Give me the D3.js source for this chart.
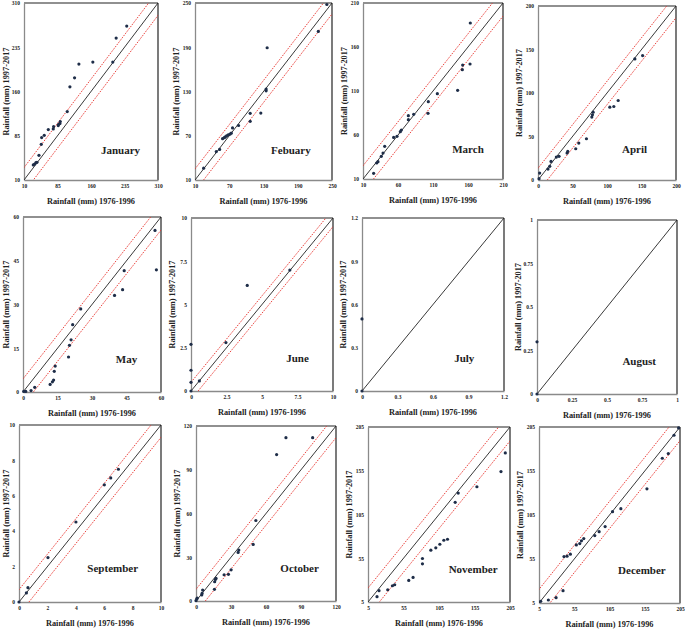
<!DOCTYPE html>
<html><head><meta charset="utf-8">
<script src="https://cdn.jsdelivr.net/npm/d3@7"></script>
<style>body{margin:0;background:#fff}svg{display:block}</style>
</head><body>
<script>
// ---- data ----
const months = ["January","Febuary","March","April","May","June","July","August","September","October","November","December"];
const janX=[30.8,33.8,36.8,39,43.5,48.7,49.5,55.4,64.4,75.5,76.3,86.7,87.4,90.4,91.2,106.8,112.8,123.2,132.9,164.1,208.8,216.3,240];
const janY=[35.5,37,39.4,40,51.9,70.5,81.9,85.8,95.5,96.6,100.5,102.2,104.5,105.6,109,126,167.9,183.2,206.4,209.8,209.8,250.5,270.9];
const febX=[25.1,47.3,53.1,58.3,61.3,63,65.3,68.2,71.2,73.5,75.8,86.3,106.7,106.7,125.3,134.6,134.6,136.4,226,241];
const febY=[26,48.6,51.4,66,67.4,68.4,69.8,71.2,72.1,73.5,80.6,83.9,89.5,100.4,100.8,130.9,133.3,189.3,211.4,248];
const marX=[25.2,29.5,31.4,36.2,38.6,41,53.8,58.6,63.3,64.8,74.8,74.8,82.4,102.9,103.3,116.2,145.2,151.9,152.4,162.9,163.3];
const marY=[16.4,28.2,29.7,35.8,39.5,47.1,57.3,58.5,63.8,65.7,77.4,82,83.5,84.6,97.9,107,110.8,134.2,139.5,140.7,187.3];
const aprX=[1.5,2.4,14.5,17,18.9,26.6,30.5,42.1,43.1,54.7,59.1,70.2,78,78.9,79.9,104.1,109.9,116.2,140.4,151.6];
const aprY=[1.5,8,12.6,15.7,21.4,26.4,27.2,31,32.9,35.9,42.4,47.4,72.3,75,78,83.7,84.5,91.4,139.2,143];
const mayX=[0.3,1.2,3.5,5.1,11.8,12.8,13.3,13.6,14,19.8,20.2,20.9,21.6,25.1,39.8,43.3,44,57.4,58];
const mayY=[0.2,0.2,0.5,1.6,2.6,3.5,4.1,7.1,8.9,12,16,17.9,23.1,28.5,33.1,35.1,41.6,55.4,41.9];
const junX=[0,0,0,0,0.59,2.46,3.96,6.96];
const junY=[0,0.5,1.2,2.7,0.58,2.8,6.1,6.99];
const julX=[0,0];
const julY=[0,0.5];
const augX=[0,0];
const augY=[0,0.3];
const sepX=[0,0.52,0.63,2.04,4.01,6.01,6.46,7.0];
const sepY=[0,0.51,0.81,2.51,4.52,6.62,7.01,7.5];
const octX=[0,0.6,1.1,4.9,5.2,5.7,15.8,16,16.6,17.2,24.1,27.8,30.1,36.1,36.7,49,51.3,69.1,77.1,100];
const octY=[0.2,1.4,2,4.1,5.2,7.5,8,13.2,14.8,15.5,18,18.3,21.4,33.3,34.9,38.8,55.2,100.4,112,112];
const novX=[17.7,20.5,32.8,39.4,42.6,62.4,68.5,81.7,81.7,93.5,100.5,106.2,111.8,117,127.8,132.1,158.4,192.3,198.4];
const novY=[11.1,17.9,19,23.6,24.7,29.7,33.1,48.6,54.7,64.2,66.9,71,75.6,76.7,118.9,129.5,136.7,154.1,175.4];
const decX=[7.4,18.3,29.2,39.1,40.5,44.8,49.5,58,62.8,65.2,68.5,84.1,90.3,98.8,109.3,121.1,158.1,179.9,188.4,196.5,203];
const decY=[6.9,8.4,11,19,57.8,58.2,60.5,71,72.5,75.6,78.2,81.6,86.1,91.8,108.8,112.2,134.8,169.5,174.8,195.6,204];
const seriesX=[janX,febX,marX,aprX,mayX,junX,julX,augX,sepX,octX,novX,decX];
const seriesY=[janY,febY,marY,aprY,mayY,junY,julY,augY,sepY,octY,novY,decY];
const ticks=[[10,85,160,235,310],[10,70,130,190,250],[10,60,110,160,210],[0,50,100,150,200],
  [0,15,30,45,60],[0,2.5,5,7.5,10],[0,0.3,0.6,0.9,1.2],[0,0.25,0.5,0.75,1],
  [0,2,4,6,8,10],[0,30,60,90,120],[5,55,105,155,205],[5,55,105,155,205]];
const bands=[21,15,15,13.5,4.5,0.5,null,null,0.7,8,16,15.5];
const xTitle="Rainfall (mm) 1976-1996";
const yTitle="Rainfall (mm) 1997-2017";

// ---- layout (pixels) ----
const boxes=[[24,158,3,180],[195,332,3,180],[363,503,3,179],[538,676,6,180],
  [23,161,217,392],[191,333,218,391],[362,504,218,391],[537,677,220,394],
  [19,161,425,602],[196,336,426,601],[368,510,427,602],[539,680,427,603]];
const labelPos=[[0.72,0.83],[0.70,0.83],[0.75,0.83],[0.70,0.82],[0.75,0.81],[0.75,0.81],[0.72,0.81],[0.73,0.81],[0.66,0.81],[0.74,0.81],[0.74,0.81],[0.73,0.81]];

const svg=d3.select("body").append("svg").attr("width",685).attr("height",632);
const serif="'Liberation Serif','Times New Roman',serif";

months.forEach((m,i)=>{
  const [L,R,T,B]=boxes[i];
  const tk=ticks[i];
  const dom=[tk[0],tk[tk.length-1]];
  const x=d3.scaleLinear().domain(dom).range([L,R]);
  const y=d3.scaleLinear().domain(dom).range([B,T]);
  const g=svg.append("g");
  // frame
  g.append("line").attr("x1",L).attr("x2",R).attr("y1",T).attr("y2",T).attr("stroke","#222").attr("stroke-width",1.2);
  g.append("line").attr("x1",R).attr("x2",R).attr("y1",T).attr("y2",B).attr("stroke","#222").attr("stroke-width",1.2);
  // axes
  const xa=g.append("g").attr("transform",`translate(0,${B})`).call(d3.axisBottom(x).tickValues(tk).tickSize(0).tickPadding(4).tickFormat(d=>String(d)));
  const ya=g.append("g").attr("transform",`translate(${L},0)`).call(d3.axisLeft(y).tickValues(tk).tickSize(0).tickPadding(4).tickFormat(d=>String(d)));
  [xa,ya].forEach(a=>{
    a.select(".domain").attr("stroke","#8a8a8a").attr("stroke-width",1.3);
    a.selectAll("text").attr("font-family",serif).attr("font-weight","bold").attr("font-size",5.5).attr("fill","#222");
  });
  // clip
  const cid="clip"+i;
  g.append("clipPath").attr("id",cid).append("rect").attr("x",L).attr("y",T).attr("width",R-L).attr("height",B-T);
  const inner=g.append("g").attr("clip-path",`url(#${cid})`);
  // 1:1 line
  inner.append("line").attr("x1",x(dom[0])).attr("y1",y(dom[0])).attr("x2",x(dom[1])).attr("y2",y(dom[1]))
    .attr("stroke","#222").attr("stroke-width",0.9);
  if(bands[i]!=null){
    [bands[i],-bands[i]].forEach(o=>{
      inner.append("line").attr("x1",x(dom[0]-Math.abs(o)*2)).attr("y1",y(dom[0]-Math.abs(o)*2+o))
        .attr("x2",x(dom[1]+Math.abs(o)*2)).attr("y2",y(dom[1]+Math.abs(o)*2+o))
        .attr("stroke","#e8302a").attr("stroke-width",0.9).attr("stroke-dasharray","1.6,1.2");
    });
  }
  // points
  const pts=seriesX[i].map((v,k)=>[v,seriesY[i][k]]);
  g.selectAll("circle.p").data(pts).join("circle").attr("class","p")
    .attr("cx",d=>x(d[0])).attr("cy",d=>y(d[1])).attr("r",1.6).attr("fill","#1e2d48");
  // titles
  g.append("text").attr("x",(L+R)/2).attr("y",B+24).attr("text-anchor","middle")
    .attr("font-family",serif).attr("font-weight","bold").attr("font-size",8.3).attr("fill","#222").text(xTitle);
  g.append("text").attr("transform",`translate(${Math.max(L-16,8.5)},${(T+B)/2}) rotate(-90)`).attr("text-anchor","middle")
    .attr("font-family",serif).attr("font-weight","bold").attr("font-size",8.3).attr("fill","#222").text(yTitle);
  const [lx,ly]=labelPos[i];
  g.append("text").attr("x",L+(R-L)*lx).attr("y",T+(B-T)*ly+4).attr("text-anchor","middle")
    .attr("font-family",serif).attr("font-weight","bold").attr("font-size",11).attr("fill","#222").text(m);
});
</script>
</body></html>
